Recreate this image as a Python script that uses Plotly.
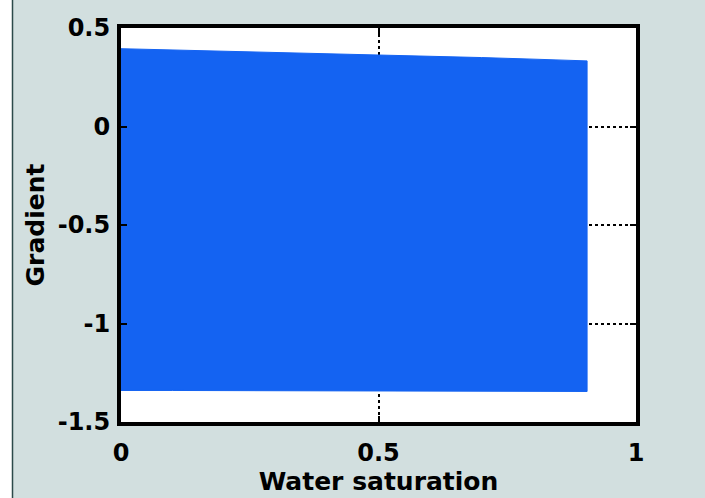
import plotly.graph_objects as go

# Envelope of the gradient band against water saturation
sw = [0.0, 0.1, 0.2, 0.3, 0.4, 0.5, 0.6, 0.7, 0.8, 0.905]
grad_upper = [0.395, 0.389, 0.383, 0.377, 0.371, 0.364, 0.357, 0.350, 0.342, 0.333]
grad_lower = [-1.340, -1.340, -1.340, -1.341, -1.341, -1.342, -1.342, -1.343, -1.344, -1.345]

x_ticks = [0, 0.5, 1]
x_tick_text = ["0", "0.5", "1"]
y_ticks = [0.5, 0, -0.5, -1, -1.5]
y_tick_text = ["0.5", "0", "-0.5", "-1", "-1.5"]

BLUE = "#1463f2"
BG = "#d2dfdf"
TICK_FONT = dict(family="DejaVu Sans, sans-serif", size=24, color="black", weight="bold")
TITLE_FONT = dict(family="DejaVu Sans, sans-serif", size=25, color="black", weight="bold")

fig = go.Figure()
fig.add_trace(go.Scatter(
    x=sw + sw[::-1],
    y=grad_upper + grad_lower[::-1],
    fill="toself",
    fillcolor=BLUE,
    mode="lines",
    line=dict(color=BLUE, width=1),
    hoverinfo="skip",
    showlegend=False,
))

W, H = 705, 498
L, R, T, B = 121, 69, 28, 70
pw = W - L - R

def px_to_paper_x(px):
    return (px - L) / pw

# white strip and dark rule at the left edge of the canvas
fig.add_shape(type="rect", xref="paper", yref="paper",
              x0=px_to_paper_x(0), x1=px_to_paper_x(12), y0=-0.5, y1=1.5,
              fillcolor="white", line=dict(width=0), layer="below")
fig.add_shape(type="line", xref="paper", yref="paper",
              x0=px_to_paper_x(12.5), x1=px_to_paper_x(12.5), y0=-0.5, y1=1.5,
              line=dict(color="#2c4a4a", width=1.5), layer="below")

axis_common = dict(
    showline=True, linecolor="black", linewidth=4, mirror="ticks",
    ticks="inside", ticklen=6, tickwidth=2, tickcolor="black",
    showgrid=True, gridcolor="black", gridwidth=2, griddash="dot",
    zeroline=False, tickfont=TICK_FONT,
)

fig.update_xaxes(
    range=[0, 1], tickvals=x_ticks, ticktext=x_tick_text,
    title=dict(text="Water saturation", font=TITLE_FONT, standoff=2),
    ticklabelstandoff=6,
    **axis_common,
)
fig.update_yaxes(
    range=[-1.5, 0.5], tickvals=y_ticks, ticktext=y_tick_text,
    title=dict(text="Gradient", font=TITLE_FONT, standoff=7),
    ticklabelstandoff=2,
    **axis_common,
)

fig.update_layout(
    width=W, height=H,
    margin=dict(l=L, r=R, t=T, b=B),
    paper_bgcolor=BG,
    plot_bgcolor="white",
    showlegend=False,
)

fig.write_html("out.html")
